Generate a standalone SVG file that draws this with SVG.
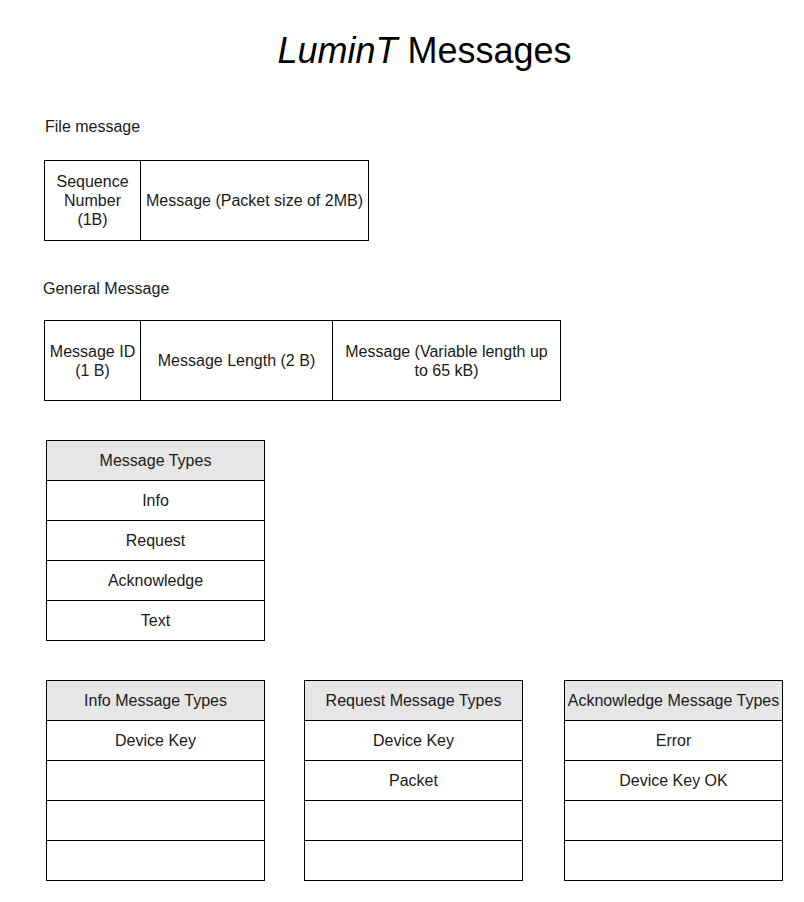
<svg xmlns="http://www.w3.org/2000/svg" width="804" height="902" viewBox="0 0 804 902">
<style>
text{font-family:"Liberation Sans",Arial,Helvetica,sans-serif;font-size:16px;fill:#1a1a1a}
.c{text-anchor:middle}
.box{fill:#fff;stroke:#000;stroke-width:1}
.hdr{fill:#e6e6e6;stroke:#000;stroke-width:1}
.t{font-size:36px;fill:#000}
</style>
<rect width="804" height="902" fill="#fff"/>
<g id="title"><text class="t c" x="424.5" y="63"><tspan font-style="italic">LuminT</tspan> Messages</text></g>
<g id="file-label"><text x="45" y="132">File message</text></g>
<g id="file-message">
<rect class="box" x="44.5" y="160.5" width="96" height="80"/>
<rect class="box" x="140.5" y="160.5" width="228" height="80"/>
<text class="c" x="92.5" y="187">Sequence</text>
<text class="c" x="92.5" y="206">Number</text>
<text class="c" x="92.5" y="225">(1B)</text>
<text class="c" x="254.5" y="206">Message (Packet size of 2MB)</text>
</g>
<g id="general-label"><text x="43" y="294">General Message</text></g>
<g id="general-message">
<rect class="box" x="44.5" y="320.5" width="96" height="80"/>
<rect class="box" x="140.5" y="320.5" width="192" height="80"/>
<rect class="box" x="332.5" y="320.5" width="228" height="80"/>
<text class="c" x="92.5" y="357">Message ID</text>
<text class="c" x="92.5" y="376">(1 B)</text>
<text class="c" x="236.5" y="366">Message Length (2 B)</text>
<text class="c" x="446.5" y="357">Message (Variable length up</text>
<text class="c" x="446.5" y="376">to 65 kB)</text>
</g>
<g id="message-types">
<rect class="hdr" x="46.5" y="440.5" width="218" height="40"/>
<rect class="box" x="46.5" y="480.5" width="218" height="40"/>
<rect class="box" x="46.5" y="520.5" width="218" height="40"/>
<rect class="box" x="46.5" y="560.5" width="218" height="40"/>
<rect class="box" x="46.5" y="600.5" width="218" height="40"/>
<text class="c" x="155.5" y="466">Message Types</text>
<text class="c" x="155.5" y="506">Info</text>
<text class="c" x="155.5" y="546">Request</text>
<text class="c" x="155.5" y="586">Acknowledge</text>
<text class="c" x="155.5" y="626">Text</text>
</g>
<g id="info-types">
<rect class="hdr" x="46.5" y="680.5" width="218" height="40"/>
<rect class="box" x="46.5" y="720.5" width="218" height="40"/>
<rect class="box" x="46.5" y="760.5" width="218" height="40"/>
<rect class="box" x="46.5" y="800.5" width="218" height="40"/>
<rect class="box" x="46.5" y="840.5" width="218" height="40"/>
<text class="c" x="155.5" y="706">Info Message Types</text>
<text class="c" x="155.5" y="746">Device Key</text>
</g>
<g id="request-types">
<rect class="hdr" x="304.5" y="680.5" width="218" height="40"/>
<rect class="box" x="304.5" y="720.5" width="218" height="40"/>
<rect class="box" x="304.5" y="760.5" width="218" height="40"/>
<rect class="box" x="304.5" y="800.5" width="218" height="40"/>
<rect class="box" x="304.5" y="840.5" width="218" height="40"/>
<text class="c" x="413.5" y="706">Request Message Types</text>
<text class="c" x="413.5" y="746">Device Key</text>
<text class="c" x="413.5" y="786">Packet</text>
</g>
<g id="ack-types">
<rect class="hdr" x="564.5" y="680.5" width="218" height="40"/>
<rect class="box" x="564.5" y="720.5" width="218" height="40"/>
<rect class="box" x="564.5" y="760.5" width="218" height="40"/>
<rect class="box" x="564.5" y="800.5" width="218" height="40"/>
<rect class="box" x="564.5" y="840.5" width="218" height="40"/>
<text class="c" x="673.5" y="706">Acknowledge Message Types</text>
<text class="c" x="673.5" y="746">Error</text>
<text class="c" x="673.5" y="786">Device Key OK</text>
</g>
<g id="connectors"/>
</svg>
